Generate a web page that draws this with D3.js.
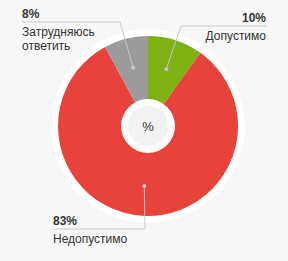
<!DOCTYPE html>
<html>
<head>
<meta charset="utf-8">
<script src="https://cdn.jsdelivr.net/npm/d3@7"></script>
<style>
  html, body { margin: 0; padding: 0; background: #f7f7f7; }
  svg { display: block; font-family: "Liberation Sans", Arial, sans-serif; }
</style>
</head>
<body>
<svg id="chart" width="288" height="261"></svg>
<script>
const labels = ["Допустимо", "Недопустимо", "Затрудняюсь ответить"];
const values = [10, 83, 8];
const colors = ["#7db212", "#e8433b", "#9b9b9b"];

const svg = d3.select("#chart"),
  cx = 148, cy = 126,
  radius = 90;

// label layout: elbow point, end of horizontal line, text anchor side
const layout = [
  { elbow: [181, 26], endX: 267, anchor: "end" },
  { elbow: [145, 229], endX: 53, anchor: "start" },
  { elbow: [120, 22], endX: 22, anchor: "start" }
];

const g = svg.append("g").attr("transform", "translate(" + cx + "," + cy + ")");

// white outer ring
g.append("circle").attr("r", radius + 7).attr("fill", "#fff");

const pie = d3.pie().sort(null).value(function(d) { return d; });
const arc = d3.arc().innerRadius(0).outerRadius(radius);
const dotArc = d3.arc().innerRadius(60).outerRadius(60);

const arcs = pie(values);

g.selectAll("path.slice")
  .data(arcs)
  .enter().append("path")
  .attr("class", "slice")
  .attr("d", arc)
  .attr("fill", function(d, i) { return colors[i]; });

// center hole
g.append("circle").attr("r", 27).attr("fill", "#fff");
g.append("circle").attr("r", 20).attr("fill", "#f2f2f2");
g.append("text")
  .attr("text-anchor", "middle")
  .attr("dy", "0.35em")
  .attr("font-size", 13)
  .attr("fill", "#333")
  .text("%");

// leader lines
arcs.forEach(function(d, i) {
  const p = dotArc.centroid(d);
  const dot = [p[0] + cx, p[1] + cy];
  const L = layout[i];
  svg.append("path")
    .attr("d", "M" + dot + "L" + L.elbow + "L" + [L.endX, L.elbow[1]])
    .attr("fill", "none")
    .attr("stroke", "#c8c8c8")
    .attr("stroke-width", 1);
  svg.append("circle")
    .attr("cx", dot[0]).attr("cy", dot[1])
    .attr("r", 2)
    .attr("fill", "#c8c8c8");

  const tx = L.anchor === "end" ? L.endX - 1 : L.endX;
  svg.append("text")
    .attr("x", tx).attr("y", L.elbow[1] - 4)
    .attr("text-anchor", L.anchor)
    .attr("font-size", 12)
    .attr("font-weight", "bold")
    .attr("fill", "#333")
    .text(values[i] + "%");

  const words = labels[i] === "Затрудняюсь ответить" ? ["Затрудняюсь", "ответить"] : [labels[i]];
  words.forEach(function(w, j) {
    svg.append("text")
      .attr("x", tx).attr("y", L.elbow[1] + 14 + j * 14)
      .attr("text-anchor", L.anchor)
      .attr("font-size", 12)
      .attr("fill", "#333")
      .text(w);
  });
});
</script>
</body>
</html>
